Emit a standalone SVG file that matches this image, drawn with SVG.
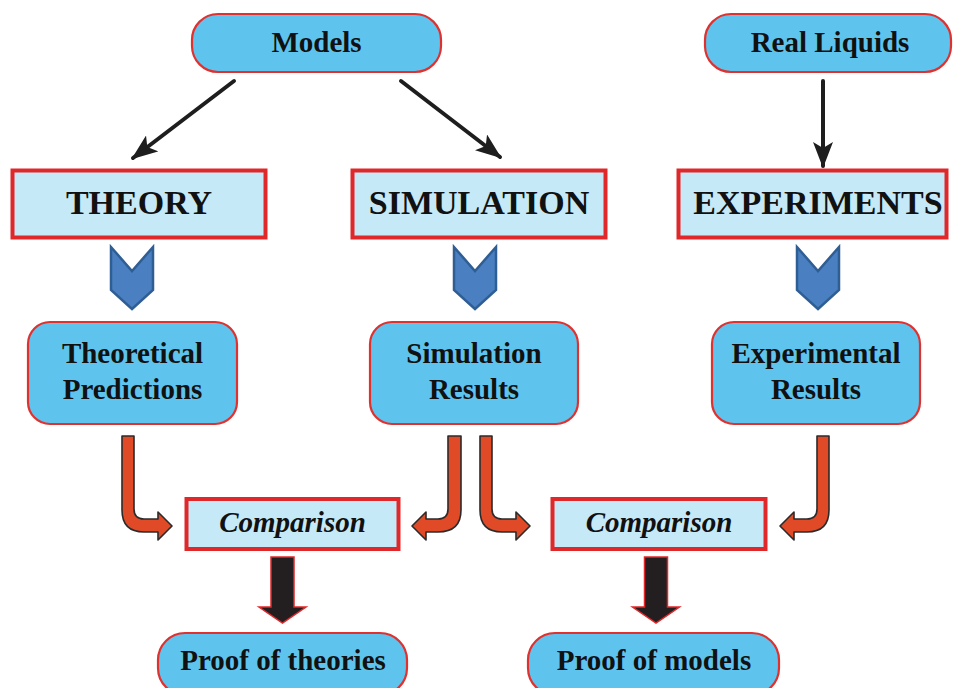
<svg xmlns="http://www.w3.org/2000/svg" width="953" height="688" viewBox="0 0 953 688">
<style>
.pill{fill:#5ec4ee;stroke:#e0312f;stroke-width:2.2}
.box{fill:#c6e9f8;stroke:#e0282a;stroke-width:4}
.t{font-family:"Liberation Serif","Times New Roman",serif;font-weight:bold;fill:#111;text-anchor:middle}
.n{font-size:29px}
.h{font-size:34px}
.i{font-size:29px;font-style:italic}
.chev{fill:#4a80c2;stroke:#2e5e94;stroke-width:2.5;stroke-linejoin:miter}
.bent{fill:#e04a27;stroke:#2b2b2b;stroke-width:1.6;stroke-linejoin:round}
.down{fill:#231f20;stroke:#e0282a;stroke-width:1.5}
.ln{stroke:#1e1e1e;stroke-width:4;stroke-linecap:round;fill:none;marker-end:url(#ah)}
</style>
<defs>
<marker id="ah" markerUnits="userSpaceOnUse" viewBox="0 0 26 20" markerWidth="26" markerHeight="20" refX="24" refY="10" orient="auto">
<path d="M0,0 L26,10 L0,20 L6,10 Z" fill="#1e1e1e"/>
</marker>
</defs>
<rect width="953" height="688" fill="#fff"/>

<g id="models"><rect class="pill" x="192" y="14" width="249" height="58" rx="26"/><text class="t n" x="316.5" y="52">Models</text></g>
<g id="real-liquids"><rect class="pill" x="705" y="14" width="246" height="58" rx="26"/><text class="t n" x="830" y="52">Real Liquids</text></g>

<g id="theory"><rect class="box" x="12.5" y="170.5" width="253" height="67"/><text class="t h" x="139" y="214">THEORY</text></g>
<g id="simulation"><rect class="box" x="352.5" y="170.5" width="253" height="67"/><text class="t h" x="479" y="214">SIMULATION</text></g>
<g id="experiments"><rect class="box" x="678.5" y="170.5" width="268" height="67"/><text class="t h" x="818" y="214">EXPERIMENTS</text></g>

<g id="theoretical-predictions"><rect class="pill" x="28" y="322" width="209" height="102" rx="22"/><text class="t n" x="132.5" y="363">Theoretical</text><text class="t n" x="132.5" y="399">Predictions</text></g>
<g id="simulation-results"><rect class="pill" x="370" y="322" width="208" height="102" rx="22"/><text class="t n" x="474" y="363">Simulation</text><text class="t n" x="474" y="399">Results</text></g>
<g id="experimental-results"><rect class="pill" x="712" y="322" width="208" height="102" rx="22"/><text class="t n" x="816" y="363">Experimental</text><text class="t n" x="816" y="399">Results</text></g>

<g id="comparison-1"><rect class="box" x="186.5" y="499" width="212" height="50"/><text class="t i" x="292.5" y="532">Comparison</text></g>
<g id="comparison-2"><rect class="box" x="552.5" y="499" width="213" height="50"/><text class="t i" x="659" y="532">Comparison</text></g>

<g id="proof-of-theories"><rect class="pill" x="158" y="633" width="249" height="62" rx="27"/><text class="t n" x="283" y="670">Proof of theories</text></g>
<g id="proof-of-models"><rect class="pill" x="528" y="633" width="251" height="62" rx="27"/><text class="t n" x="654" y="670">Proof of models</text></g>

<g id="connectors">
<line class="ln" x1="234" y1="81" x2="133" y2="158"/>
<line class="ln" x1="401" y1="81" x2="500" y2="157"/>
<line class="ln" x1="823" y1="81" x2="823" y2="166"/>

<polygon class="chev" points="111,247 132,271 153,247 153,290 132,309 111,290"/>
<polygon class="chev" points="454,247 475,271 496,247 496,290 475,309 454,290"/>
<polygon class="chev" points="797,247 818,271 839,247 839,290 818,309 797,290"/>

<path class="bent" d="M122,436 H134 V509 Q134,519 144,519 H158 V512 L172,526 L158,540 V532 H144 Q122,532 122,510 Z"/>
<path class="bent" d="M461,436 H448 V509 Q448,519 438,519 H426 V512 L412,526 L426,540 V532 H438 Q461,532 461,510 Z"/>
<path class="bent" d="M480,436 H492 V509 Q492,519 502,519 H516 V512 L530,526 L516,540 V532 H502 Q480,532 480,510 Z"/>
<path class="bent" d="M829,436 H817 V509 Q817,519 807,519 H794 V512 L780,526 L794,540 V532 H807 Q829,532 829,510 Z"/>

<polygon class="down" points="271,557 294,557 294,607 306,607 282.5,623 259,607 271,607"/>
<polygon class="down" points="644.5,557 667.5,557 667.5,607 679.5,607 656,623 632.5,607 644.5,607"/>
</g>
</svg>
